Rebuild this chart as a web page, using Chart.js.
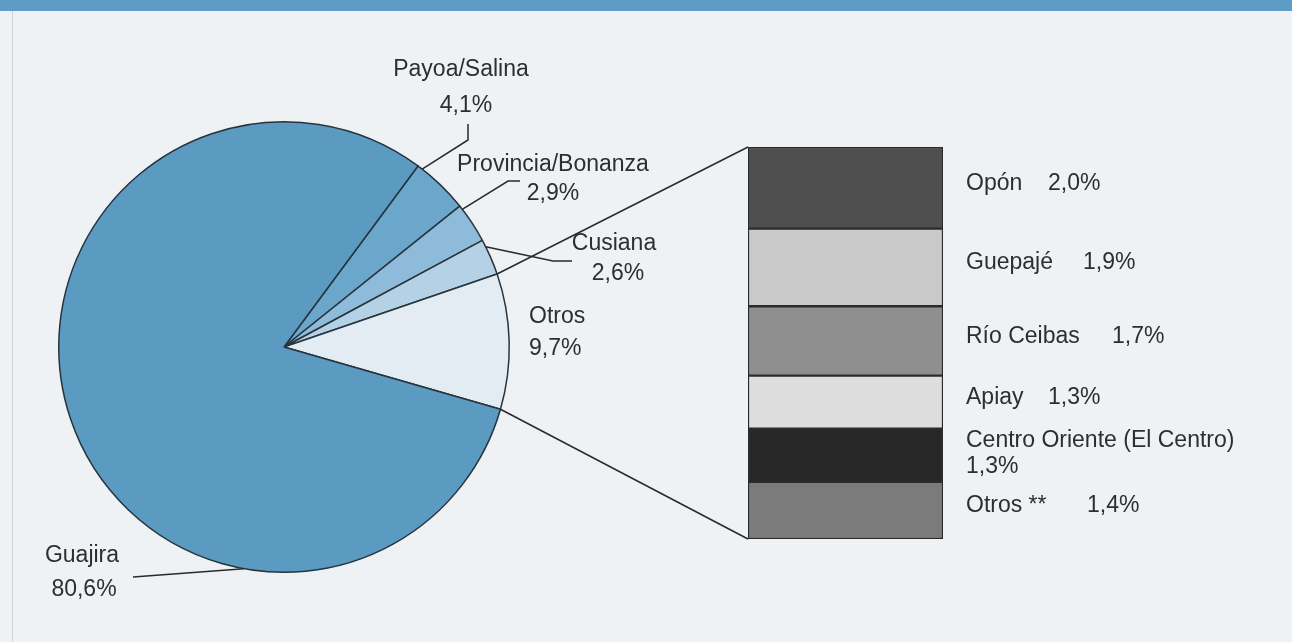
<!DOCTYPE html>
<html>
<head>
<meta charset="utf-8">
<script src="https://cdn.jsdelivr.net/npm/chart.js@4.4.0/dist/chart.umd.min.js"></script>
<style>
    html, body { margin: 0; padding: 0; background: #eef2f4; }
    #wrap { position: relative; width: 1292px; height: 642px; overflow: hidden; }
    .band { position: absolute; left: 0; top: 0; width: 1292px; height: 11px; background: #5c9cc6; }
    .edge { position: absolute; left: 12px; top: 11px; width: 1px; height: 631px; background: #cfd5d8; }
    canvas { position: absolute; left: 0; top: 0; }
</style>
</head>
<body>
<div id="wrap">
    <div class="band"></div>
    <div class="edge"></div>
    <canvas id="pie" width="1292" height="642"></canvas>
    <canvas id="bar" width="1292" height="642"></canvas>
</div>
<script>
// pie data (clockwise from the Payoa/Guajira edge)
const pieLabels = ['Payoa/Salina', 'Provincia/Bonanza', 'Cusiana', 'Otros', 'Guajira'];
const pieValues = [4.1, 2.9, 2.6, 9.7, 80.6];

// breakdown of "Otros" (top to bottom)
const barLabels = ['Opón', 'Guepajé', 'Río Ceibas', 'Apiay', 'Centro Oriente (El Centro)', 'Otros **'];
const barValues = [2.0, 1.9, 1.7, 1.3, 1.3, 1.4];

const pieColors = ['#6ba6cb', '#8ebbd9', '#b5d1e5', '#e3ecf2', '#5b9ac1'];
const barColors = ['#4f4f4f', '#c9c9c9', '#8f8f8f', '#dddddd', '#272727', '#7b7b7b'];

const FONT = '23px "Liberation Sans", Arial, sans-serif';
const INK = '#2e2e2e';
const pct = v => v.toFixed(1).replace('.', ',') + '%';

// label placement for the pie (text points + leader elbows)
const pieNoteLayout = [
    { name: [461, 76], value: [466, 112], frac: 0.09, leader: [[468, 140], [468, 124]] },
    { name: [553, 171], value: [553, 200], frac: 0.1, leader: [[508, 181], [520, 181]] },
    { name: [614, 250], value: [618, 280], frac: 0.2, leader: [[553, 261], [572, 261]] },
    { name: [558, 323], value: [557, 355], frac: 0, leader: null },
    { name: [82, 562], value: [84, 596], frac: 0.29, leader: [[133, 577]] }
];

// value offset from the label start, per row of the bar
const barValueDx = [82, 117, 146, 82, 0, 121];

const barNotes = {
    id: 'barNotes',
    afterDraw(chart) {
        const ctx = chart.ctx;
        const x0 = chart.chartArea.right + 23;
        ctx.save();
        ctx.font = FONT;
        ctx.fillStyle = INK;
        ctx.textBaseline = 'alphabetic';
        chart.data.datasets.forEach((ds, i) => {
            const el = chart.getDatasetMeta(i).data[0];
            const mid = (el.y + el.base) / 2;
            if (i === 4) {
                ctx.fillText(ds.label, x0, mid - 8);
                ctx.fillText(pct(ds.data[0]), x0, mid + 18);
            } else {
                ctx.fillText(ds.label, x0, mid + 2);
                ctx.fillText(pct(ds.data[0]), x0 + barValueDx[i], mid + 2);
            }
        });
        ctx.restore();
    }
};

const total = barValues.reduce((s, v) => s + v, 0);

const barChart = new Chart(document.getElementById('bar'), {
    type: 'bar',
    data: {
        labels: [''],
        datasets: barLabels.map((label, i) => ({
            label: label,
            data: [barValues[i]],
            backgroundColor: barColors[i],
            borderColor: '#2b2b2b',
            borderWidth: 1.5,
            borderSkipped: false,
            barPercentage: 1,
            categoryPercentage: 1
        }))
    },
    options: {
        responsive: false,
        animation: false,
        layout: { padding: { left: 748, top: 147, right: 349, bottom: 103 } },
        scales: {
            x: { display: false, stacked: true },
            y: { display: false, stacked: true, reverse: true, min: 0, max: total }
        },
        plugins: { legend: { display: false }, tooltip: { enabled: false } }
    },
    plugins: [barNotes]
});

const pieNotes = {
    id: 'pieNotes',
    afterDraw(chart) {
        const ctx = chart.ctx;
        const arcs = chart.getDatasetMeta(0).data;
        const cx = arcs[0].x, cy = arcs[0].y, r = arcs[0].outerRadius;
        const at = a => [cx + r * Math.cos(a), cy + r * Math.sin(a)];

        ctx.save();
        ctx.strokeStyle = '#2a2a2a';
        ctx.lineWidth = 1.5;

        // leaders
        arcs.forEach((arc, i) => {
            const lay = pieNoteLayout[i];
            if (!lay.leader) return;
            const p = at(arc.startAngle + lay.frac * (arc.endAngle - arc.startAngle));
            ctx.beginPath();
            ctx.moveTo(p[0], p[1]);
            lay.leader.forEach(q => ctx.lineTo(q[0], q[1]));
            ctx.stroke();
        });

        // connectors from the "Otros" slice to the breakdown bar
        const otros = arcs[3];
        const metaTop = barChart.getDatasetMeta(0).data[0];
        const metaBot = barChart.getDatasetMeta(barValues.length - 1).data[0];
        const left = metaTop.x - metaTop.width / 2;
        const top = Math.min(metaTop.y, metaTop.base);
        const bottom = Math.max(metaBot.y, metaBot.base);
        let p = at(otros.startAngle);
        ctx.beginPath();
        ctx.moveTo(p[0], p[1]);
        ctx.lineTo(left, top);
        p = at(otros.endAngle);
        ctx.moveTo(p[0], p[1]);
        ctx.lineTo(left, bottom);
        ctx.stroke();

        // texts
        ctx.font = FONT;
        ctx.fillStyle = INK;
        ctx.textBaseline = 'alphabetic';
        chart.data.labels.forEach((label, i) => {
            const lay = pieNoteLayout[i];
            ctx.textAlign = i === 3 ? 'left' : 'center';
            const nx = i === 3 ? 529 : lay.name[0];
            const vx = i === 3 ? 529 : lay.value[0];
            ctx.fillText(label, nx, lay.name[1]);
            ctx.fillText(pct(chart.data.datasets[0].data[i]), vx, lay.value[1]);
        });
        ctx.restore();
    }
};

const pieChart = new Chart(document.getElementById('pie'), {
    type: 'pie',
    data: {
        labels: pieLabels,
        datasets: [{
            data: pieValues,
            backgroundColor: pieColors,
            borderColor: '#27343d',
            borderWidth: 1.5
        }]
    },
    options: {
        responsive: false,
        animation: false,
        rotation: 36.5,
        layout: { padding: { left: 58, top: 121, right: 782, bottom: 69 } },
        plugins: { legend: { display: false }, tooltip: { enabled: false } }
    },
    plugins: [pieNotes]
});
</script>
</body>
</html>
